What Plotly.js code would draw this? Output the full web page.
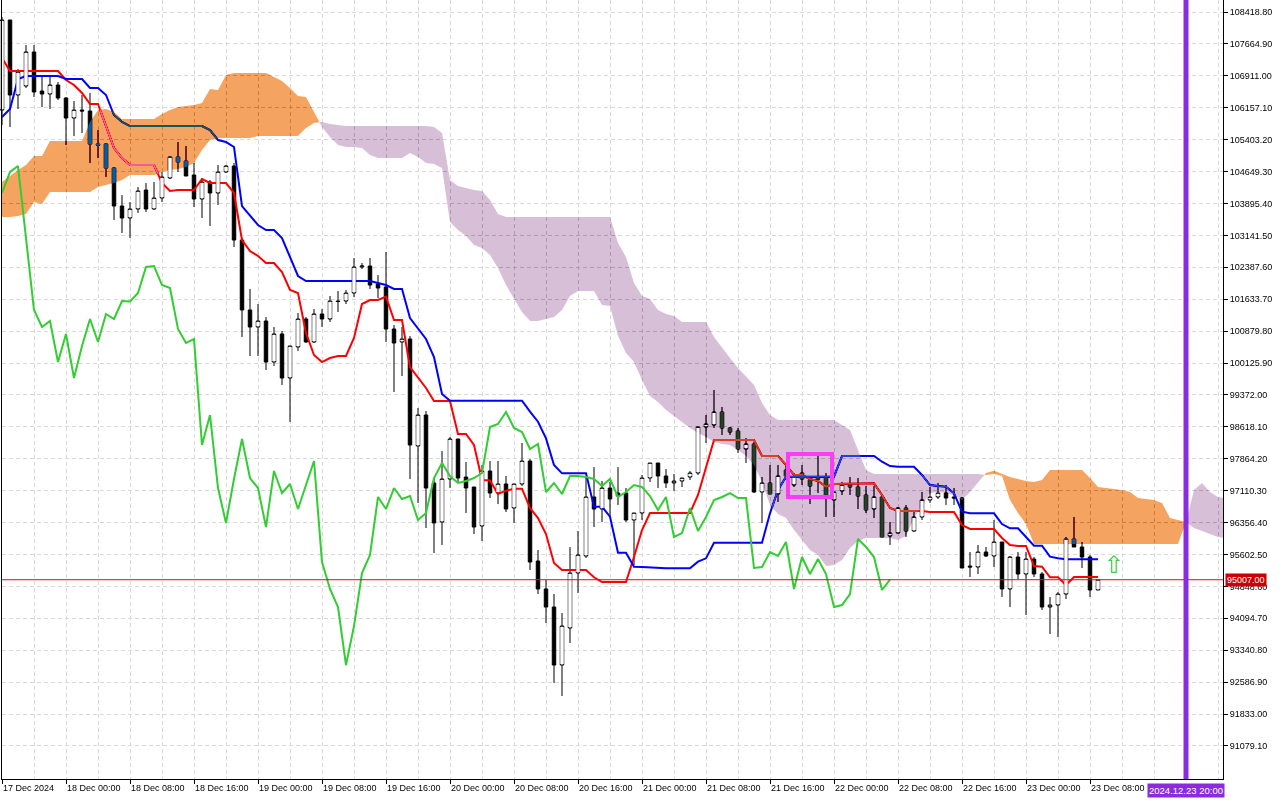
<!DOCTYPE html>
<html><head><meta charset="utf-8">
<script src="https://cdn.plot.ly/plotly-3.0.1.min.js"></script>
<style>html,body{margin:0;padding:0;background:#fff;}#chart{width:1280px;height:800px;}</style>
</head><body><div id="chart"></div>
<script>
// H1 bars, index 0 = 17 Dec 2024 16:00
const openP = [106103,108230,106458,106670,107474,106552,106481,106694,106387,105914,
106103,106080,105300,105300,104733,103835,103552,103765,104213,103765,
104024,104497,104993,104898,104568,104001,104402,104143,104639,104780,
103032,101379,100977,101119,100150,100812,99772,100505,101166,100623,
101284,101166,101591,101591,101780,102394,102418,101993,101922,100930,
100623,100694,98166,98898,97292,96370,97386,98331,97433,97197,
96276,97575,97055,97268,96701,97268,97811,95449,94788,94362,
92992,93866,95165,95567,96961,96677,97173,97055,97055,96417,
96583,97410,97764,97457,97292,97339,97433,97528,98615,98662,
98969,98591,98520,98095,98213,97079,97292,97032,97599,97244,
97528,97363,97410,97410,96890,97103,97244,97197,97008,96677,
96961,96039,96110,96701,96158,96488,96890,96961,97055,96961,
96937,95331,95307,95662,95567,95898,94788,95543,95142,95496,
95142,94362,94409,94669,95969,95780,95543,94764];
const highP = [108300,108230,107072,107639,107639,106883,106883,106765,106410,106316,
106458,106505,105631,105324,104757,104095,103930,104284,104379,104402,
104639,105017,105347,105253,104851,104497,104450,104804,104804,104851,
103080,101875,101520,101213,100977,100882,100528,101308,101213,101402,
101402,101709,101827,101851,102607,102489,102607,102205,102749,101024,
100977,100764,99063,98992,97410,98048,98378,98331,97788,97197,
97717,97811,97811,97457,97268,98237,97859,95709,95000,94669,
94220,95780,96158,97457,97670,97339,97315,97670,97173,96583,
97481,97764,97764,97622,97504,97410,97575,98615,98898,99489,
99087,98615,98591,98355,98260,97433,97717,97717,97693,97528,
97717,97433,97929,97528,97079,97315,97433,97410,97221,97221,
96961,96370,96725,96772,96606,97079,97197,97292,97244,97173,
96961,95662,95827,95780,96417,95898,95567,95662,95662,95543,
95189,94598,94717,96016,96488,95898,95591,95007];
const lowP = [105749,105702,106127,106623,106410,106174,106127,106340,105276,105489,
105560,104851,104969,104521,103505,103198,103080,103670,103694,103741,
103930,104473,104639,104544,103812,103552,103363,103859,104615,102867,
100741,100292,100292,99961,100056,99607,98733,100410,100599,100599,
100977,101095,101331,101520,101686,102347,101875,101662,100623,99441,
99819,97386,96819,96229,95638,95827,97173,97292,96583,96087,
95921,96937,96795,96606,96347,97221,95236,94669,93984,92567,
92260,93512,94693,95520,96252,96370,96488,96772,96370,95354,
96417,97315,97173,97173,97103,97197,97363,97481,98237,98591,
98426,98426,98000,97764,97055,96347,97032,96843,97363,97197,
97244,96795,97055,96488,96488,97008,97008,96677,96583,96465,
96016,95827,96100,96016,96134,96417,96819,96914,96772,96772,
95284,95071,95142,95543,95307,94598,94362,95024,94173,95071,
94291,93724,93653,94551,95780,95284,94598,94764];
const closeP = [108230,106458,107001,107474,106529,106481,106694,106387,105914,106103,
106080,105300,105276,104733,103835,103552,103765,104190,103765,104024,
104521,104993,104875,104544,104001,104402,104143,104639,104780,103032,
101379,100977,101119,100150,100812,99772,100528,101166,100623,101284,
101166,101591,101580,101780,102394,102418,101969,101898,100930,100599,
100694,98189,98898,97173,96347,97386,98331,97410,97173,96252,
97575,97055,97268,96677,97268,97811,95425,94788,94362,92992,
93913,95165,95591,96961,96677,97173,96914,96984,96417,96583,
97410,97764,97457,97292,97339,97410,97528,98615,98685,98969,
98591,98496,98095,98213,97079,97292,97032,97457,97457,97433,
97386,97221,97386,96961,97079,97244,97197,96984,96654,96961,
96016,96110,96701,96158,96488,96890,96961,97055,96937,96937,
95284,95307,95662,95567,95898,94788,95543,95142,95496,95142,
94362,94409,94669,95969,95780,95543,94764,95007];
const tenkan = [107332,107025,107025,107025,107025,107025,107025,107025,106812,106694,
106505,106245,106245,105749,105206,104969,104804,104804,104804,104804,
104379,104190,104213,104213,104213,104473,104379,104379,104379,104143,
103032,102773,102654,102489,102489,102276,101851,101780,100835,100315,
100150,100245,100292,100292,100717,101520,101615,101615,101693,101142,
101142,100032,99796,99536,99229,99229,99229,98449,98449,98189,
97363,97350,97032,97110,97157,97157,96701,96465,96087,95402,
95236,95236,95236,95236,95065,94953,94953,94953,94953,95543,
96181,96583,96583,96583,96583,96583,96583,97008,97646,98307,
98307,98307,98307,98307,98307,97929,97929,97929,97717,97481,
97481,97386,97339,97205,97268,97268,97268,97268,97284,97284,
97008,96701,96630,96630,96630,96630,96606,96606,96606,96606,
96299,96205,96205,96205,96205,95992,95827,95804,95804,95331,
95315,95065,95065,94882,95071,95071,95071,95071];
const kijun = [105938,106127,106836,106907,106907,106907,106907,106907,106836,106836,
106836,106623,106623,106458,105985,105820,105725,105725,105725,105725,
105725,105725,105725,105725,105725,105725,105631,105395,105347,105229,
103835,103599,103387,103269,103269,103080,102631,102182,102064,102064,
102064,102064,102064,102064,102064,102064,102064,102017,101969,101875,
101875,101190,100930,100694,100268,99394,99236,99236,99236,99236,
99236,99236,99236,99236,99236,99236,98976,98740,98347,97717,
97520,97520,97520,97520,96732,96732,96496,95645,95645,95315,
95307,95296,95276,95276,95276,95276,95276,95433,95512,95881,
95881,95881,95881,95881,95881,95881,96576,97126,97441,97441,
97441,97441,97441,97441,97441,97929,97929,97929,97929,97929,
97795,97693,97677,97677,97677,97481,97244,97221,97205,97048,
96614,96576,96576,96576,96576,96323,96221,96221,96023,95811,
95811,95551,95512,95489,95489,95489,95489,95489];
// Senkou spans as plotted (already shifted 26 bars forward)
const spanA = [104402,104544,104686,104804,105017,105017,105371,105371,105371,105371,
105371,105820,106103,106127,106056,105891,105891,105891,105891,105891,
106009,106103,106174,106198,106221,106269,106599,106576,106930,106977,
106977,106977,106977,106977,106883,106788,106623,106434,106410,106056,
105702,105466,105276,105229,105229,105206,105040,104969,104969,104969,
104969,105087,104993,104851,104828,104733,103457,103269,103127,102914,
102843,102678,102371,101969,101662,101331,101119,101119,101166,101213,
101379,101709,101827,101827,101827,101497,101473,100764,100363,100150,
99725,99347,99205,99016,98874,98733,98591,98473,98378,98260,
98213,98189,98071,97929,97717,97315,96772,96559,96465,96181,
95945,95709,95591,95331,95354,95473,95756,95921,95992,95992,
95992,95992,95945,96039,96465,96772,97055,97079,97055,97008,
96890,97079,97315,97528,97580,97504,97433,97386,97339,97315,
97363,97599,97599,97599,97599,97599,97410,97197,97173,97150,
97126,97079,96937,96914,96890,96819,96465,96417,96370,96229,
96158,96087,96016,95992];
const spanB = [103576,103576,103599,103646,103930,103883,104166,104166,104166,104166,
104166,104166,104284,104332,104379,104450,104568,104568,104568,104568,
104639,104686,104710,104757,104851,105158,105395,105442,105442,105442,
105442,105442,105489,105489,105489,105489,105489,105489,105678,105796,
105820,105773,105749,105725,105725,105725,105725,105725,105725,105725,
105725,105725,105725,105725,105702,105560,104450,104308,104261,104213,
104190,103977,103646,103576,103576,103576,103576,103576,103576,103576,
103576,103576,103576,103576,103576,103576,103576,102961,102631,102017,
101709,101638,101379,101284,101237,101095,101095,101095,101095,100741,
100481,100245,100008,99819,99607,99181,98898,98780,98780,98780,
98780,98780,98780,98780,98780,98662,98544,98071,97599,97504,
97504,97504,97504,97504,97504,97504,97504,97504,97504,97504,
97504,97504,97504,97481,97504,97457,96890,96583,96323,95851,
95851,95851,95851,95851,95851,95851,95851,95851,95851,95851,
95851,95851,95851,95851,95851,95851,95851,95851,96370,97126,
97292,97079,96961,96937];
const chikouShift = 26;
const timeTickBars = [0,8,16,24,32,40,48,56,64,72,80,88,96,104,112,120,128,136];
const timeTickLabels = ['17 Dec 2024','18 Dec 00:00','18 Dec 08:00','18 Dec 16:00','19 Dec 00:00','19 Dec 08:00',
 '19 Dec 16:00','20 Dec 00:00','20 Dec 08:00','20 Dec 16:00','21 Dec 00:00','21 Dec 08:00','21 Dec 16:00',
 '22 Dec 00:00','22 Dec 08:00','22 Dec 16:00','23 Dec 00:00','23 Dec 08:00'];
const priceTicks = [108418.80,107664.90,106911.00,106157.10,105403.20,104649.30,103895.40,103141.50,
 102387.60,101633.70,100879.80,100125.90,99372.00,98618.10,97864.20,97110.30,96356.40,95602.50,
 94848.60,94094.70,93340.80,92586.90,91833.00,91079.10];
const lastPrice = 95007.00;
const futureBar = 148;
const futureLabel = '2024.12.23 20:00';
const focusBox = {x0: 98.25, x1: 103.75, y0: 96961, y1: 97977};
const signalBar = 139, signalPrice = 95354;

// ---- build traces ----
const bars = openP.map((_, i) => i);
const candles = {
  type: 'candlestick', x: bars, open: openP, high: highP, low: lowP, close: closeP,
  increasing: {line: {color: '#000', width: 1}, fillcolor: '#ffffff'},
  decreasing: {line: {color: '#000', width: 1}, fillcolor: '#000000'},
  whiskerwidth: 0, hoverinfo: 'skip', showlegend: false
};
const line = (y, color, w, xs) => ({type: 'scatter', mode: 'lines', x: xs || bars, y: y,
  line: {color: color, width: w}, hoverinfo: 'skip', showlegend: false});

// cloud with crossing points
const cx = [], ca = [], cb = [];
for (let i = 0; i < spanA.length; i++) {
  cx.push(i); ca.push(spanA[i]); cb.push(spanB[i]);
  if (i < spanA.length - 1) {
    const d0 = spanA[i] - spanB[i], d1 = spanA[i + 1] - spanB[i + 1];
    if (d0 * d1 < 0) {
      const t = d0 / (d0 - d1);
      const v = spanA[i] + t * (spanA[i + 1] - spanA[i]);
      cx.push(i + t); ca.push(v); cb.push(v);
    }
  }
}
const cmax = ca.map((a, j) => Math.max(a, cb[j]));
const ORANGE_INV = 'rgb(11,91,159)';   // inverse of sandybrown, used with difference blend
const PURPLE_INV = 'rgb(39,64,39)';    // inverse of thistle
const baseB = {type: 'scatter', mode: 'lines', x: cx, y: cb, line: {width: 0}, hoverinfo: 'skip', showlegend: false};
const topOrange = {type: 'scatter', mode: 'lines', x: cx, y: cmax, line: {width: 0}, fill: 'tonexty', fillcolor: ORANGE_INV, hoverinfo: 'skip', showlegend: false};
const baseA = {type: 'scatter', mode: 'lines', x: cx, y: ca, line: {width: 0}, hoverinfo: 'skip', showlegend: false};
const topPurple = {type: 'scatter', mode: 'lines', x: cx, y: cmax, line: {width: 0}, fill: 'tonexty', fillcolor: PURPLE_INV, hoverinfo: 'skip', showlegend: false};

// white fills of bullish bodies drawn above the cloud
const wbx = [], wby = [];
const hw = 0.21, pad = 22;
bars.forEach(i => {
  if (closeP[i] - openP[i] > 2 * pad + 10) {
    const lo = openP[i] + pad, hi = closeP[i] - pad;
    wbx.push(i - hw, i + hw, i + hw, i - hw, i - hw, null);
    wby.push(lo, lo, hi, hi, lo, null);
  }
});
const whiteBodies = {type: 'scatter', mode: 'lines', x: wbx, y: wby, fill: 'toself', fillcolor: '#ffffff',
  line: {width: 0}, hoverinfo: 'skip', showlegend: false};

const chX = [], chY = [];
for (let i = 0; i + chikouShift < closeP.length; i++) { chX.push(i); chY.push(closeP[i + chikouShift]); }

const data = [candles, line(tenkan, '#ff0000', 2), line(kijun, '#0000ff', 2),
  baseB, topOrange, baseA, topPurple, whiteBodies, line(chY, '#32cd32', 2, chX)];

const gridC = '#d9d9d9';
const layout = {
  width: 1280, height: 800,
  margin: {l: 2, r: 57, t: 0, b: 21, pad: 0},
  paper_bgcolor: '#ffffff', plot_bgcolor: '#ffffff', showlegend: false,
  font: {family: '"Liberation Sans", Arial, sans-serif', size: 9, color: '#000'},
  boxgap: 0.38,
  xaxis: {range: [0, 152.625], tickmode: 'array', tickvals: timeTickBars, ticktext: timeTickLabels,
    ticks: 'outside', ticklen: 4, tickcolor: '#000', ticklabelposition: 'outside right',
    showline: true, linecolor: '#000', linewidth: 1, showgrid: true, gridcolor: gridC, griddash: '4px,3px',
    zeroline: false, rangeslider: {visible: false}, fixedrange: true,
    minor: {tickmode: 'linear', tick0: 0, dtick: 4, showgrid: true, gridcolor: gridC, griddash: '4px,3px', ticks: ''}},
  yaxis: {side: 'right', range: [90299.1, 108702.3], tickmode: 'array', tickvals: priceTicks,
    ticktext: priceTicks.map(v => v.toFixed(2)), ticks: 'outside', ticklen: 4, tickcolor: '#000',
    showline: true, mirror: true, linecolor: '#000', linewidth: 1, showgrid: true, gridcolor: gridC,
    griddash: '4px,3px', zeroline: false, fixedrange: true},
  shapes: [
    {type: 'line', xref: 'paper', x0: 0, x1: 1, yref: 'y', y0: lastPrice, y1: lastPrice, line: {color: '#ff0000', width: 1}, layer: 'above'},
    {type: 'line', xref: 'x', x0: futureBar, x1: futureBar, yref: 'paper', y0: 0, y1: 1, line: {color: '#8a2be2', width: 5}, layer: 'above'},
    {type: 'rect', xref: 'x', yref: 'y', x0: focusBox.x0, x1: focusBox.x1, y0: focusBox.y0, y1: focusBox.y1, line: {color: '#ff3cf5', width: 4}, layer: 'above'}
  ],
  annotations: [
    {xref: 'paper', x: 1, xanchor: 'left', xshift: 2, yref: 'y', y: lastPrice, text: lastPrice.toFixed(2), showarrow: false,
      bgcolor: '#cc0000', font: {color: '#ffffff', size: 9}, borderpad: 1},
    {xref: 'x', x: futureBar, yref: 'paper', y: 0, yanchor: 'top', yshift: -4, text: futureLabel, showarrow: false,
      bgcolor: '#8a2be2', font: {color: '#ffffff', size: 9.5}, borderpad: 1},
    {xref: 'x', x: signalBar, yref: 'y', y: signalPrice, text: '\u21E7', showarrow: false,
      font: {color: '#3cd23c', size: 24, family: '"DejaVu Sans", sans-serif'}}
  ]
};

Plotly.newPlot('chart', data, layout, {staticPlot: true, displayModeBar: false}).then(() => {
  const fills = [];
  document.querySelectorAll('#chart .scatterlayer path.js-fill').forEach(p => {
    const f = (p.style.fill || '').replace(/\s/g, '');
    if (f === ORANGE_INV || f === PURPLE_INV) fills.push(p);
  });
  let clipUrl = null;
  fills.forEach(p => {
    let el = p.parentNode;
    while (el && el.tagName && el.tagName.toLowerCase() !== 'svg') {
      const c = el.getAttribute && el.getAttribute('clip-path');
      if (c) { clipUrl = clipUrl || c; el.removeAttribute('clip-path'); }
      el = el.parentNode;
    }
  });
  fills.forEach(p => {
    if (clipUrl) p.setAttribute('clip-path', clipUrl);
    p.style.mixBlendMode = 'difference';
  });
});
</script>
</body></html>
